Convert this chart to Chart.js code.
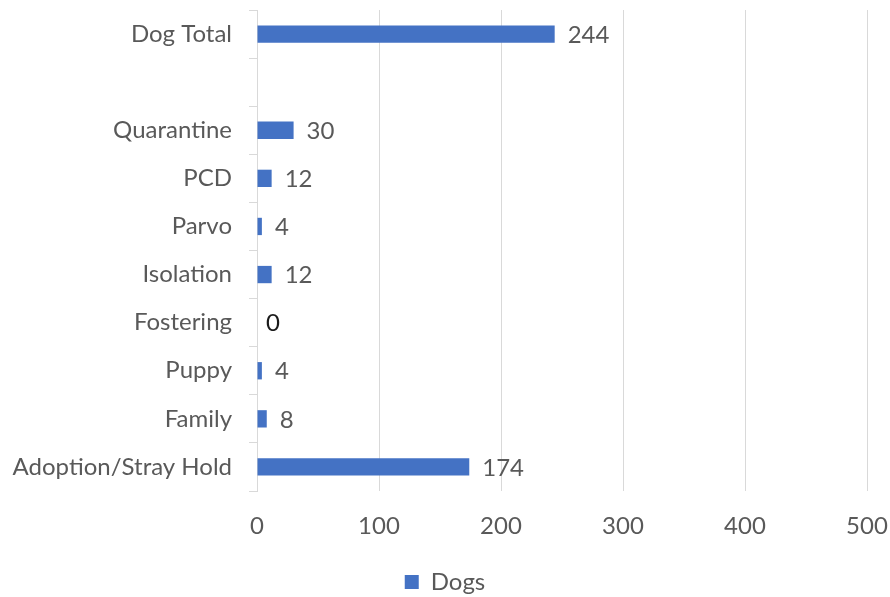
<!DOCTYPE html>
<html>
<head>
<meta charset="utf-8">
<script src="https://cdn.jsdelivr.net/npm/chart.js@4"></script>
<style>
    body { margin: 0; background: #fff; }
    #wrap { width: 890px; height: 597px; }
</style>
</head>
<body>
<div id="wrap"><canvas id="dogChart"></canvas></div>
<script>
const categories = ['Dog Total', '', 'Quarantine', 'PCD', 'Parvo', 'Isolation', 'Fostering', 'Puppy', 'Family', 'Adoption/Stray Hold'];
const dogs = [244, null, 30, 12, 4, 12, 0, 4, 8, 174];
const xTicks = [0, 100, 200, 300, 400, 500];

const textGray = '#595959';
const gridGray = '#d9d9d9';
const barBlue = '#4472c4';
const font = { family: 'Lato', size: 24 };

// draws the value next to the end of every bar
const valueLabels = {
    id: 'valueLabels',
    afterDatasetsDraw(chart) {
        const ctx = chart.ctx;
        const meta = chart.getDatasetMeta(0);
        ctx.save();
        ctx.font = `${font.size}px ${font.family}`;
        ctx.textAlign = 'left';
        ctx.textBaseline = 'middle';
        meta.data.forEach((bar, i) => {
            const v = dogs[i];
            if (v === null) return;
            ctx.fillStyle = v === 0 ? '#1a1a1a' : textGray;
            ctx.fillText(String(v), bar.x + (v === 0 ? 9 : 13), bar.y + 1);
        });
        ctx.restore();
    }
};

new Chart(document.getElementById('dogChart'), {
    type: 'bar',
    data: {
        labels: categories,
        datasets: [{
            label: 'Dogs',
            data: dogs,
            backgroundColor: barBlue,
            categoryPercentage: 1,
            barPercentage: 0.36
        }]
    },
    options: {
        indexAxis: 'y',
        responsive: true,
        maintainAspectRatio: false,
        animation: false,
        layout: { padding: { top: 10, right: 0, left: 0, bottom: -7 } },
        scales: {
            x: {
                min: xTicks[0],
                max: xTicks[xTicks.length - 1],
                afterBuildTicks(scale) { scale.ticks = xTicks.map(v => ({ value: v })); },
                ticks: { color: textGray, font, padding: 21 },
                grid: { color: gridGray, drawTicks: false },
                border: { display: false },
                afterFit(scale) {
                    scale.height = 76;
                    scale.paddingLeft = 0;
                    scale.paddingRight = 23;
                }
            },
            y: {
                ticks: { color: textGray, font, padding: 17, autoSkip: false },
                grid: { color: gridGray, drawOnChartArea: false, drawTicks: true, tickLength: 8, offset: true },
                border: { color: gridGray },
                afterFit(scale) {
                    scale.width = 257;
                    scale.paddingTop = 0;
                    scale.paddingBottom = 0;
                }
            }
        },
        plugins: {
            legend: {
                position: 'bottom',
                labels: {
                    color: textGray,
                    font: { family: font.family, size: font.size, lineHeight: 1 },
                    boxWidth: 14,
                    boxHeight: 14,
                    padding: 3
                }
            },
            tooltip: { enabled: false }
        }
    },
    plugins: [valueLabels]
});
</script>
</body>
</html>
